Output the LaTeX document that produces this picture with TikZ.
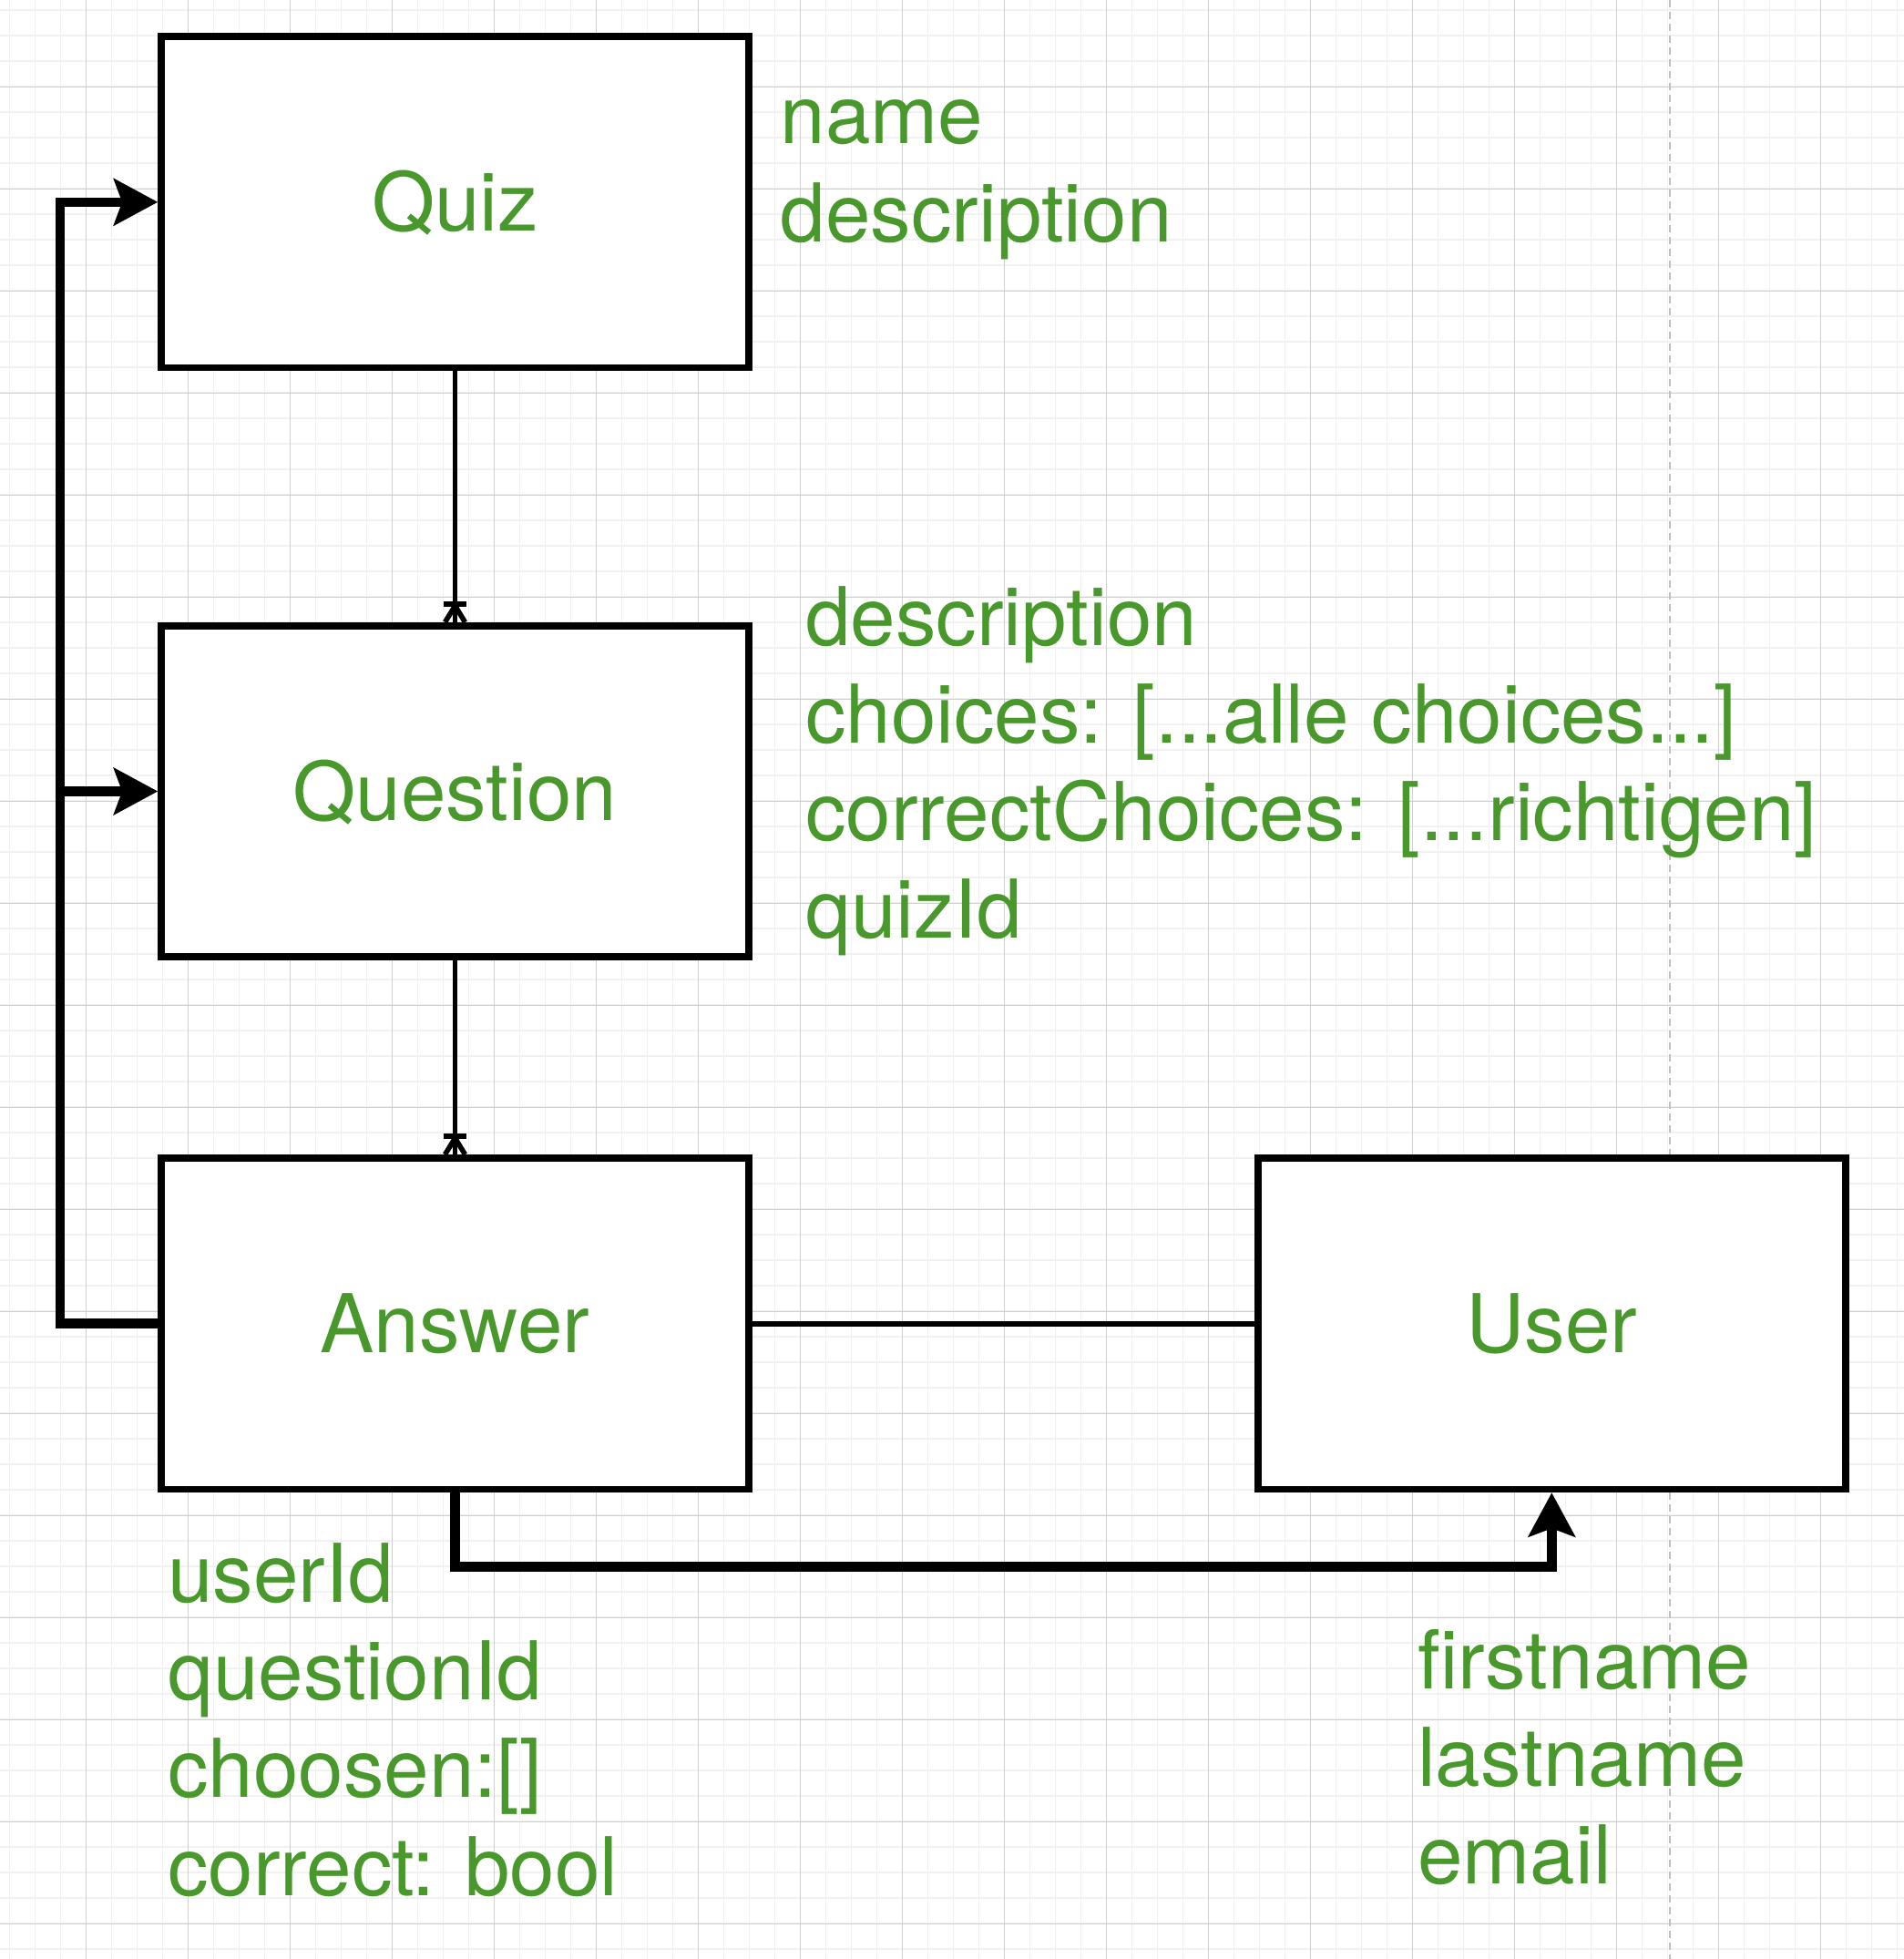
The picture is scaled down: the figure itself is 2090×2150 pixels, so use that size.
\documentclass[tikz,border=0pt]{standalone}
\usepackage{fontspec}
\setmainfont{TeX Gyre Heros}
\usetikzlibrary{arrows.meta,calc}
\definecolor{txtgreen}{RGB}{72,152,44}
\definecolor{gridminor}{RGB}{241,241,241}
\definecolor{gridmajor}{RGB}{208,208,208}
\definecolor{pageline}{RGB}{192,192,192}
\begin{document}
\begin{tikzpicture}[x=1pt,y=-1pt,
  entity/.style={draw=black, line width=7.8pt, fill=white, minimum width=645pt,
    minimum height=363.5pt, inner sep=0pt, text=txtgreen,
    font=\fontsize{89}{107}\selectfont, text height=64pt, text depth=0pt},
  attr/.style={anchor=base west, inner sep=0pt, text=txtgreen,
    font=\fontsize{89}{107}\selectfont},
  thinc/.style={line width=5.6pt, draw=black},
  thickc/.style={line width=10.5pt, draw=black, line join=miter},
  arr/.style={-{Stealth[length=49pt,width=53pt,inset=10pt,line width=0pt]}},
  minorline/.style={draw=gridminor, line width=1.3pt},
  majorline/.style={draw=gridmajor, line width=1pt}
]
\useasboundingbox (0,0) rectangle (2090,2150);
\fill[white] (0,0) rectangle (2090,2150);
% grid
\foreach \x in {10.5,38.5,...,2090} \draw[minorline] (\x,0) -- (\x,2150);
\foreach \y in {11,39,...,2150} \draw[minorline] (0,\y) -- (2090,\y);
\foreach \x in {94.5,206.5,...,2090} \draw[majorline] (\x,0) -- (\x,2150);
\foreach \y in {95,207,...,2150} \draw[majorline] (0,\y) -- (2090,\y);
% page break line
\draw[pageline, line width=2pt, dash pattern=on 8pt off 5pt] (1833,0) -- (1833,2150);

% entities
\node[entity] (quiz) at (499.5,221.8) {Quiz};
\node[entity] (question) at (499.5,868.5) {Question};
\node[entity] (answer) at (499.5,1452.7) {Answer};
\node[entity] (user) at (1703.3,1452.7) {User};

% helper coordinates
\coordinate (lc) at (66,0);
\coordinate (bc) at (0,1719.5);

% thin connectors with one-or-many ends
\draw[thinc] (quiz.south) -- (question.north);
\draw[thinc] ($(question.north)+(-11,0)$) -- ($(question.north)+(0,-18)$) -- ($(question.north)+(11,0)$);
\draw[thinc] ($(question.north)+(-12.5,-20)$) -- ($(question.north)+(12.5,-20)$);
\draw[thinc] (question.south) -- (answer.north);
\draw[thinc] ($(answer.north)+(-11,0)$) -- ($(answer.north)+(0,-18)$) -- ($(answer.north)+(11,0)$);
\draw[thinc] ($(answer.north)+(-12.5,-20)$) -- ($(answer.north)+(12.5,-20)$);
\draw[thinc] (answer.east) -- (user.west);

% thick connectors
\draw[thickc, arr] (answer.west) -- (answer.west -| lc) |- (quiz.west);
\draw[thickc, arr] (question.west -| lc) -- (question.west);
\draw[thickc, arr] (answer.south) -- (answer.south |- bc) -| (user.south);

% attributes
\node[attr] (qa1) at (856.5,157.3) {name};
\node[attr] (qa2) at (856.5,265) {description};

\node[attr] (qb1) at (884,708.3) {description};
\node[attr] (qb2) at (884,815.3) {choices: [...alle choices...]};
\node[attr] (qb3) at (884,922.3) {correctChoices: [...richtigen]};
\node[attr] (qb4) at (884,1029.6) {quizId};

\node[attr] (aa1) at (184,1758.3) {userId};
\node[attr] (aa2) at (184,1865.2) {questionId};
\node[attr] (aa3) at (184,1972.4) {choosen:[]};
\node[attr] (aa4) at (184,2080.6) {correct: bool};

\node[attr] (ua1) at (1556,1853) {firstname};
\node[attr] (ua2) at (1556,1960.5) {lastname};
\node[attr] (ua3) at (1556,2067) {email};
\end{tikzpicture}
\end{document}
